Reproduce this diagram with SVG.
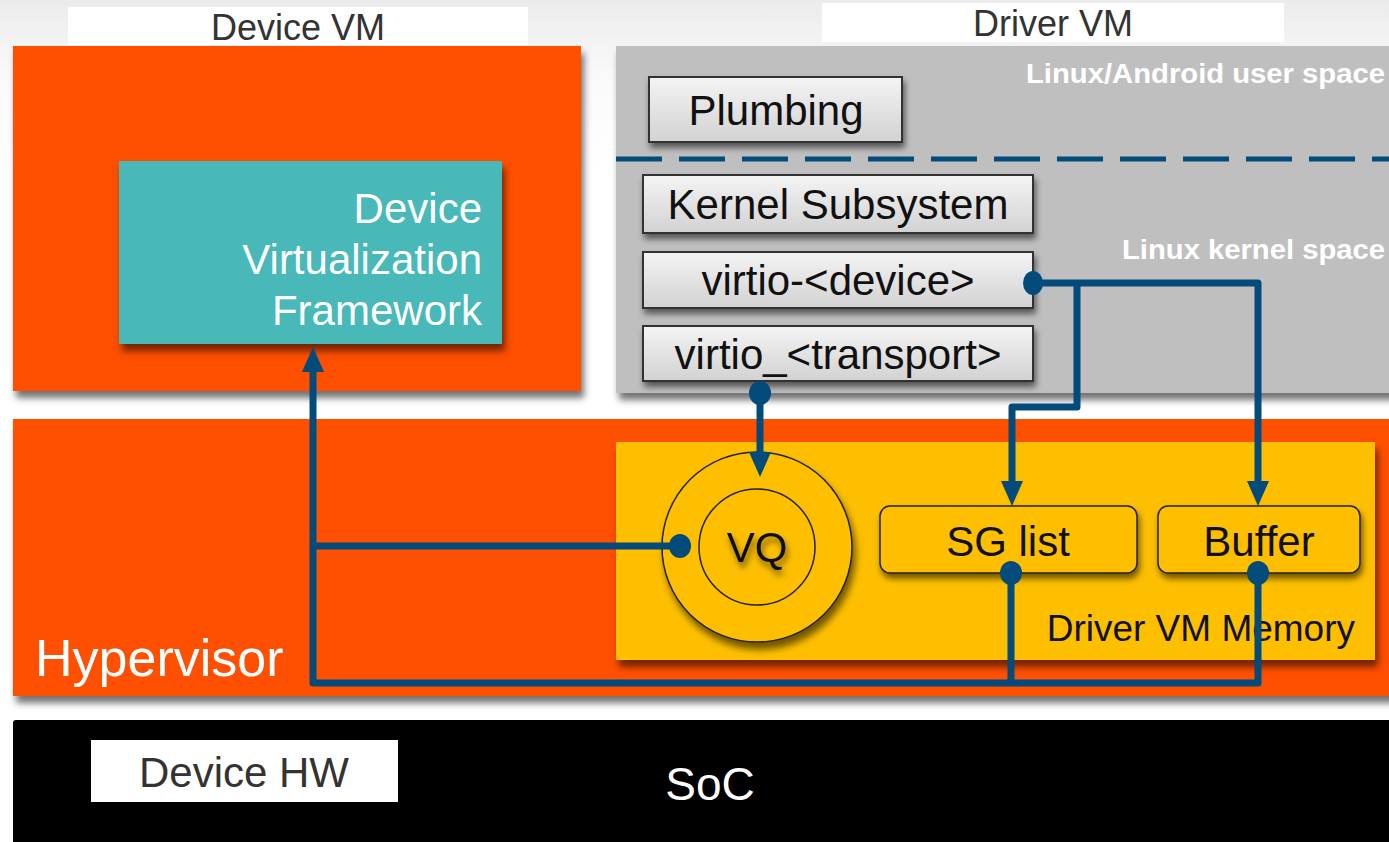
<svg xmlns="http://www.w3.org/2000/svg" width="1389" height="842" viewBox="0 0 1389 842">
<defs>
  <linearGradient id="bg" x1="0" y1="0" x2="0" y2="1">
    <stop offset="0" stop-color="#ebebeb"/>
    <stop offset="0.09" stop-color="#fafafa"/>
    <stop offset="0.2" stop-color="#ffffff"/>
  </linearGradient>
  <linearGradient id="btn" x1="0" y1="0" x2="0" y2="1">
    <stop offset="0" stop-color="#f4f4f4"/>
    <stop offset="1" stop-color="#d2d2d2"/>
  </linearGradient>
  <filter id="sh" x="-10%" y="-10%" width="130%" height="140%">
    <feDropShadow dx="3" dy="7" stdDeviation="3.5" flood-color="#000" flood-opacity="0.55"/>
  </filter>
  <filter id="shs" x="-10%" y="-20%" width="130%" height="160%">
    <feDropShadow dx="2" dy="5" stdDeviation="3" flood-color="#000" flood-opacity="0.55"/>
  </filter>
  <marker id="arr" markerUnits="userSpaceOnUse" markerWidth="26" markerHeight="22" refX="0" refY="11" orient="auto">
    <path d="M0,0 L25,11 L0,22 z" fill="#034b7b"/>
  </marker>
  <style>
    text { font-family: "Liberation Sans", Arial, sans-serif; }
    .box { fill: url(#btn); stroke: #333; stroke-width: 2; filter: url(#shs); }
    .lbl { font-size: 42px; fill: #111; text-anchor: middle; }
    .top { font-size: 36px; fill: #333; text-anchor: middle; }
    .side { font-size: 28px; font-weight: bold; fill: #fff; text-anchor: end; }
    .ybox { fill: #fdbf00; stroke: #222; stroke-width: 1.5; filter: url(#shs); }
    .conn { fill: none; stroke: #034b7b; stroke-width: 7; stroke-linejoin: round; }
    .dot { fill: #034b7b; }
  </style>
</defs>

<rect x="0" y="0" width="1389" height="842" fill="url(#bg)"/>

<g id="device-vm">
  <rect x="68" y="7" width="460" height="38" fill="#fff"/>
  <text class="top" x="298" y="40">Device VM</text>
  <rect x="13" y="46" width="568" height="345" fill="#ff4f00" filter="url(#sh)"/>
</g>

<g id="dvf">
  <rect x="119" y="161" width="383" height="183" fill="#48b8b8" filter="url(#sh)"/>
  <text x="482" y="223" font-size="42" fill="#fff" text-anchor="end">Device</text>
  <text x="482" y="274" font-size="42" fill="#fff" text-anchor="end">Virtualization</text>
  <text x="482" y="325" font-size="42" fill="#fff" text-anchor="end">Framework</text>
</g>

<g id="driver-vm">
  <rect x="822" y="3" width="462" height="39" fill="#fff"/>
  <text class="top" x="1053" y="36">Driver VM</text>
  <rect x="616" y="46" width="790" height="347" fill="#bfbfbf" filter="url(#sh)"/>
  <text class="side" x="1385" y="83" textLength="359" lengthAdjust="spacingAndGlyphs">Linux/Android user space</text>
  <text class="side" x="1385" y="259" textLength="263" lengthAdjust="spacingAndGlyphs">Linux kernel space</text>
  <line x1="616" y1="159" x2="1389" y2="159" stroke="#034b7b" stroke-width="5" stroke-dasharray="46 17"/>
</g>

<g id="plumbing">
  <rect class="box" x="649" y="77" width="253" height="65"/>
  <text class="lbl" x="776" y="125">Plumbing</text>
</g>

<g id="kernel-subsystem">
  <rect class="box" x="643" y="175" width="390" height="58"/>
  <text class="lbl" x="838" y="219">Kernel Subsystem</text>
</g>

<g id="virtio-device">
  <rect class="box" x="643" y="252" width="390" height="56"/>
  <text class="lbl" x="838" y="295">virtio-&lt;device&gt;</text>
</g>

<g id="virtio-transport">
  <rect class="box" x="643" y="326" width="390" height="55"/>
  <text class="lbl" x="838" y="369">virtio_&lt;transport&gt;</text>
</g>

<g id="hypervisor">
  <rect x="13" y="419" width="1390" height="277" fill="#ff4f00" filter="url(#sh)"/>
  <text x="35" y="676" font-size="52" fill="#fff">Hypervisor</text>
</g>

<g id="driver-vm-memory">
  <rect x="616" y="442" width="759" height="218" fill="#fdbf00" filter="url(#sh)"/>
  <text x="1355" y="641" font-size="37" fill="#111" text-anchor="end">Driver VM Memory</text>
</g>

<g id="vq">
  <circle cx="757" cy="547" r="95" fill="#fdbf00" stroke="#222" stroke-width="1.5" filter="url(#sh)"/>
  <circle cx="757" cy="547" r="58" fill="#fdbf00" stroke="#222" stroke-width="1.5"/>
  <text class="lbl" x="757" y="562" filter="url(#shs)">VQ</text>
</g>

<g id="sg-list">
  <rect class="ybox" x="880" y="506" width="257" height="67" rx="10"/>
  <text class="lbl" x="1008" y="556">SG list</text>
</g>

<g id="buffer">
  <rect class="ybox" x="1158" y="506" width="202" height="67" rx="10"/>
  <text class="lbl" x="1259" y="556">Buffer</text>
</g>

<g id="soc">
  <rect x="13" y="720" width="1390" height="130" rx="3" fill="#000"/>
  <text x="710" y="800" font-size="46" fill="#fff" text-anchor="middle">SoC</text>
</g>

<g id="device-hw">
  <rect x="91" y="740" width="307" height="62" fill="#fff" filter="url(#sh)"/>
  <text x="244" y="787" font-size="42" fill="#333" text-anchor="middle">Device HW</text>
</g>

<g id="connectors">
  <path class="conn" d="M1033,283 H1258 V481" marker-end="url(#arr)"/>
  <path class="conn" d="M1077,283 V407 H1012 V481" marker-end="url(#arr)"/>
  <path class="conn" d="M760,393 V452" marker-end="url(#arr)"/>
  <path class="conn" d="M1011,573 V683"/>
  <path class="conn" d="M1258,573 V683 H313 V372" marker-end="url(#arr)"/>
  <path class="conn" d="M680,546 H313"/>
  <ellipse class="dot" cx="1033" cy="283" rx="10" ry="12"/>
  <ellipse class="dot" cx="760" cy="393" rx="11" ry="12"/>
  <ellipse class="dot" cx="680" cy="546" rx="11" ry="12"/>
  <ellipse class="dot" cx="1011" cy="573" rx="11" ry="12"/>
  <ellipse class="dot" cx="1258" cy="573" rx="11" ry="12"/>
</g>
</svg>
